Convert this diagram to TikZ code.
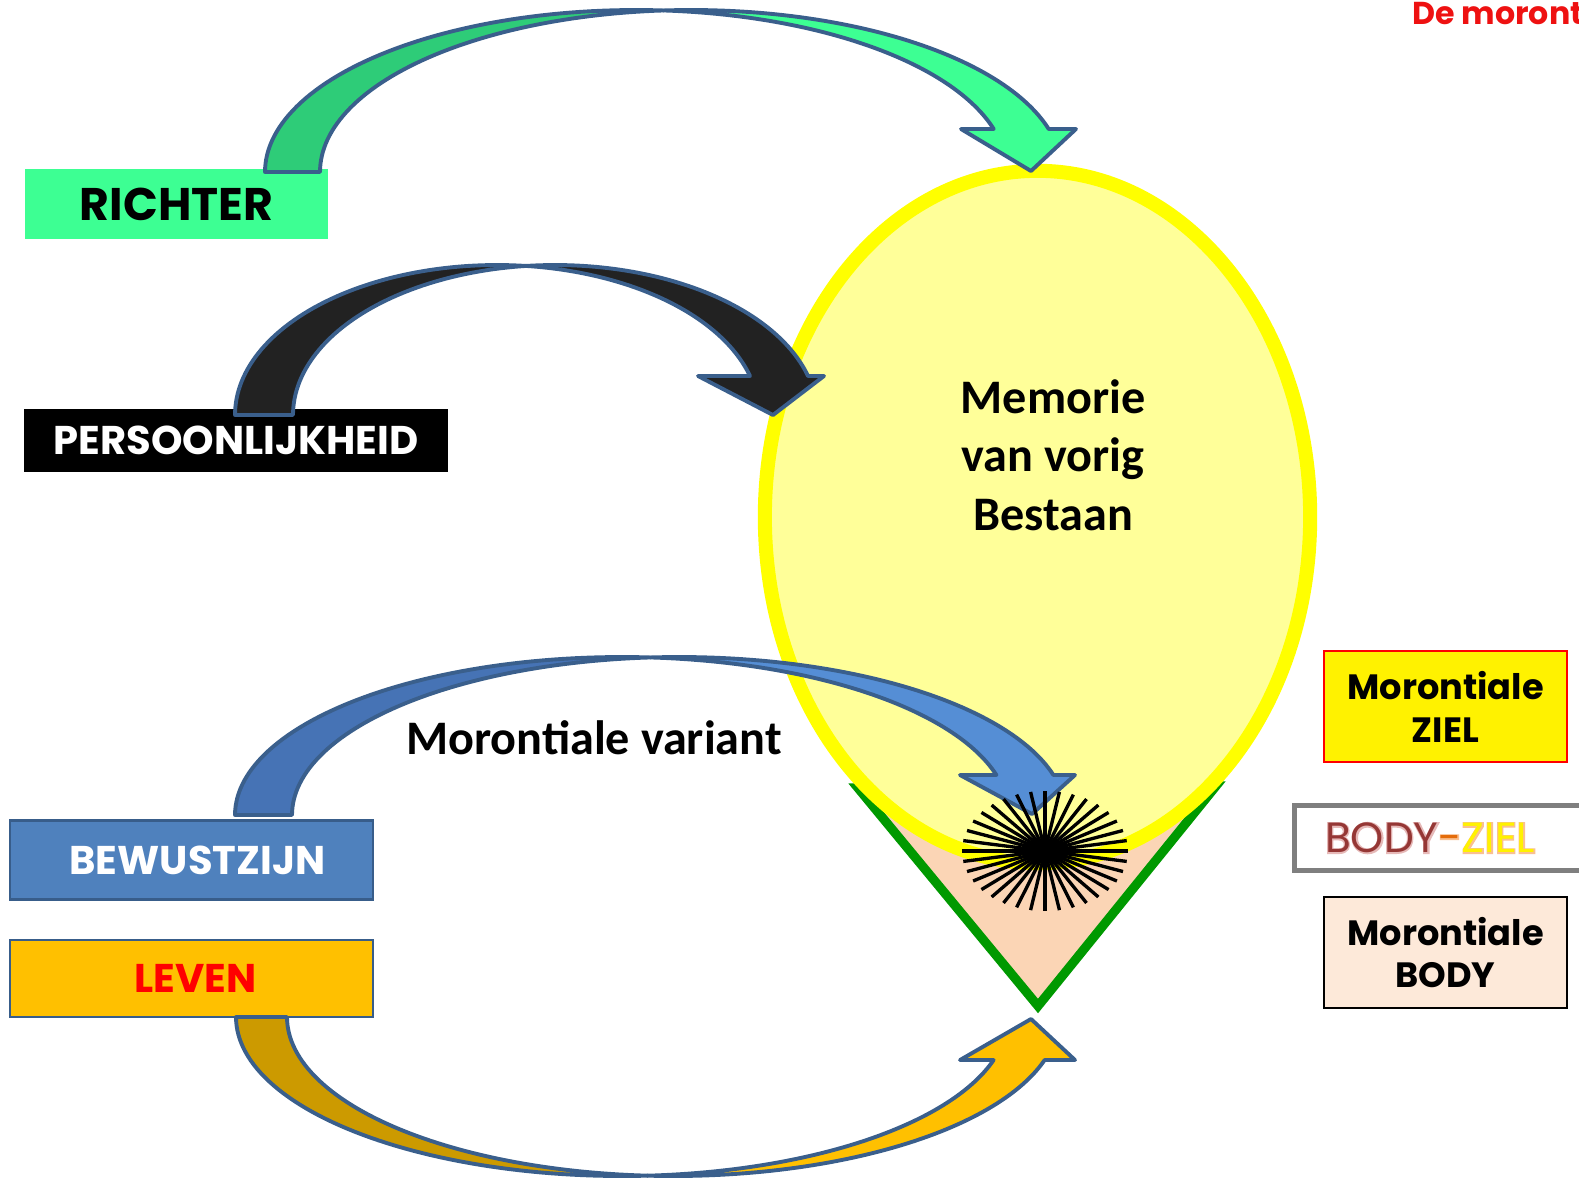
\documentclass[tikz,border=0pt]{standalone}
\usepackage{fontspec}
\newfontfamily\cmc{Poppins}
\newfontfamily\cmcglow[FakeBold=6]{Poppins}
\newfontfamily\clb{Carlito}
\usetikzlibrary{shapes.geometric}
\definecolor{richterg}{HTML}{3DFF93}
\definecolor{greend}{HTML}{2ECC78}
\definecolor{blackband}{HTML}{222222}
\definecolor{bluedark}{HTML}{4673B5}
\definecolor{bluelight}{HTML}{558ED5}
\definecolor{bewfill}{HTML}{4F81BD}
\definecolor{bewline}{HTML}{385D8A}
\definecolor{levenfill}{HTML}{FFC000}
\definecolor{orangedark}{HTML}{CC9A00}
\definecolor{bandline}{HTML}{3A5F8C}
\definecolor{ellfill}{HTML}{FFFF99}
\definecolor{ellline}{HTML}{FFFF00}
\definecolor{peach}{HTML}{FBD5B5}
\definecolor{conegreen}{HTML}{009900}
\definecolor{zielred}{HTML}{FF0000}
\definecolor{bodyfill}{HTML}{FDE9D9}
\definecolor{bodyred}{HTML}{953735}
\definecolor{bodyglow}{HTML}{E6B9B8}
\definecolor{zielglow}{HTML}{FAC090}
\definecolor{dashor}{HTML}{E46C0A}
\definecolor{boxgray}{HTML}{7F7F7F}
\definecolor{titlered}{HTML}{EE1111}
\newcommand\cvset[6]{\def\cvx{#1}\def\cvy{#2}\def\cvrx{#3}\def\cvry{#4}\def\cvw{#5}\def\cvd{#6}}
\newcommand\cvhead[5]{\def\cvh{#1}\def\cvl{#2}\def\cvr{#3}\def\cvtx{#4}\def\cvty{#5}}
\newcommand\cvdraw[2]{%
  \pgfmathsetmacro\cvth{acos(\cvw/(2*\cvrx))}%
  \pgfmathsetmacro\cvthb{180-\cvth}%
  \pgfmathsetmacro\cvph{asin(abs(\cvy-\cvh)/\cvry)}%
  \pgfmathsetmacro\cvxb{\cvx+\cvw}%
  \filldraw[band,fill=#1] plot[domain=180:\cvth,samples=60] ({\cvx+\cvrx*cos(\x)},{\cvy-(\cvd)*\cvry*sin(\x)})
     -- plot[domain=\cvthb:180,samples=60] ({\cvxb+\cvrx*cos(\x)},{\cvy-(\cvd)*\cvry*sin(\x)}) -- cycle;
  \filldraw[band,fill=#2] plot[domain=\cvth:\cvph,samples=60] ({\cvx+\cvrx*cos(\x)},{\cvy-(\cvd)*\cvry*sin(\x)})
     -- (\cvl,\cvh) -- (\cvtx,\cvty) -- (\cvr,\cvh)
     -- plot[domain=\cvph:\cvthb,samples=60] ({\cvxb+\cvrx*cos(\x)},{\cvy-(\cvd)*\cvry*sin(\x)}) -- cycle;
}
\begin{document}
\begin{tikzpicture}[x=0.01cm,y=-0.01cm,
  box/.style={rectangle, inner sep=0pt, align=center},
  band/.style={draw=bandline, line width=1.1pt, line join=round},
  comicb/.style={font=\cmc\bfseries\fontsize{11.4}{12.5}\selectfont},
  legendb/.style={font=\cmc\bfseries\fontsize{10}{12.2}\selectfont},
  calib/.style={font=\clb\bfseries\fontsize{13.7}{16.6}\selectfont}]
\useasboundingbox (0,0) rectangle (1579,1181);
\clip (0,0) rectangle (1579,1181);

% left boxes
\node[box, fill=richterg, minimum width=3.03cm, minimum height=0.70cm,
      font=\cmc\bfseries\fontsize{13}{15}\selectfont] (richter) at (176.5,204) {RICHTER};
\node[box, fill=black, text=white, minimum width=4.24cm, minimum height=0.63cm, comicb] (pers) at (236,440.5) {PERSOONLIJKHEID};
\node[box, draw=bewline, line width=0.6pt, fill=bewfill, text=white, minimum width=3.63cm, minimum height=0.79cm, comicb] (bew) at (191.5,860) {\hspace*{0.12cm}BEWUSTZIJN};
\node[box, draw=bewline, line width=0.6pt, fill=levenfill, text=zielred, minimum width=3.63cm, minimum height=0.77cm, comicb] (leven) at (191.5,978.5) {\hspace*{0.08cm}LEVEN};

% right legend boxes
\node[box, draw=zielred, line width=0.6pt, fill=yellow, minimum width=2.43cm, minimum height=1.11cm, legendb] (ziel) at (1445.5,706.5) {Morontiale\\ZIEL};
\draw[draw=boxgray, line width=1.4pt, fill=white] (1294.5,805.5) rectangle (1600,870.5);
\coordinate (bzc) at (1430,838);
\node[font=\cmcglow\fontsize{12}{13}\selectfont] (bzglow) at (bzc) {\textcolor{bodyglow}{BODY}\textcolor{zielglow}{-ZIEL}};
\node[font=\cmc\fontsize{12}{13}\selectfont] (bodyziel) at (bzc) {\textcolor{bodyred}{BODY}\textcolor{dashor}{-}\textcolor{yellow}{ZIEL}};
\node[box, draw=black, line width=0.6pt, fill=bodyfill, minimum width=2.43cm, minimum height=1.11cm, legendb] (mbody) at (1445.5,952.5) {Morontiale\\BODY};

% orange arrow from LEVEN
\cvset{622}{1017}{386}{159}{51}{-1}
\cvhead{1060}{960}{1075}{1031}{1019}
\cvdraw{orangedark}{levenfill}

% cone
\filldraw[fill=peach, draw=conegreen, line width=2.6pt, line join=miter] (858,788) -- (1038,1006) -- (1216,786) -- cycle;
% ellipse
\node[ellipse, draw=ellline, fill=ellfill, line width=4pt, minimum width=5.45cm, minimum height=6.92cm, inner sep=0pt] (memorie) at (1037.5,517) {};

% green arrow
\cvset{636}{172}{371}{162}{55}{1}
\cvhead{129}{961}{1076}{1031}{171}
\cvdraw{greend}{richterg}

% black arrow
\cvset{497}{415}{262}{150}{58}{1}
\cvhead{376}{698}{824}{773}{415}
\cvdraw{blackband}{blackband}

% blue arrow
\cvset{622}{815}{387}{158}{57}{1}
\cvhead{775}{960}{1075}{1032}{814}
\cvdraw{bluedark}{bluelight}

% star burst
\coordinate (star) at (1045,851);
\foreach \a in {0,10,...,350}
  \draw[line width=0.95pt] (star) -- ++({83*cos(\a)},{60*sin(\a)});
\fill (star) ellipse [x radius=18, y radius=12];

% texts
\node[calib, align=center] (memtext) at (1053,455) {Memorie\\van vorig\\Bestaan};
\node[calib] (variant) at (594,738) {Morontiale variant};
\node[anchor=base west, text=titlered, font=\cmc\bfseries\fontsize{9}{10}\selectfont] (title) at (1400,24) {De moront};
\end{tikzpicture}
\end{document}
